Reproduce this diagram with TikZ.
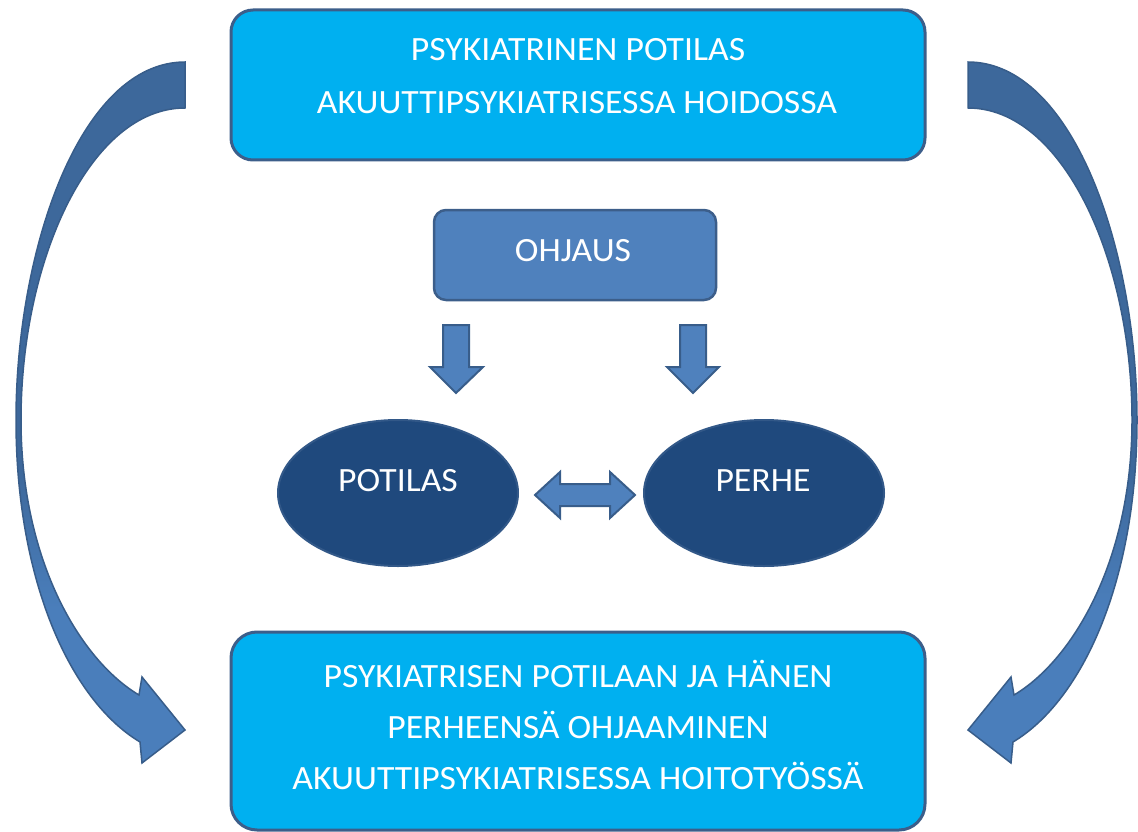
\documentclass[tikz,border=0pt]{standalone}
\usepackage{fontspec}
\newfontfamily\boxfont[FakeStretch=1.05]{Carlito}
\usetikzlibrary{shapes.geometric}
\definecolor{boxcyan}{RGB}{0,176,240}
\definecolor{boxborder}{RGB}{60,94,138}
\definecolor{ohjfill}{RGB}{79,129,189}
\definecolor{ellfill}{RGB}{31,73,125}
\definecolor{ellborder}{RGB}{50,88,136}
\definecolor{arrdark}{RGB}{61,104,155}
\definecolor{arrlight}{RGB}{74,126,187}
\definecolor{arrborder}{RGB}{56,93,138}
\pgfdeclareverticalshading{arrshade}{100bp}{color(0bp)=(arrlight); color(36bp)=(arrlight); color(46bp)=(arrdark); color(100bp)=(arrdark)}
\newcommand\cvarrpath{(185,62) .. controls (80,62) and (16,250) .. (16,420)
  .. controls (16,580) and (70,700) .. (140,742)
  -- (142,763) -- (185,730) -- (142,677) -- (139,695)
  .. controls (80,660) and (21,560) .. (21,420)
  .. controls (21,260) and (90,108) .. (185,108) -- cycle}
\begin{document}
\begin{tikzpicture}[x=1pt,y=-1pt,
  bigbox/.style={draw=boxborder, line width=3pt, fill=boxcyan, rounded corners=22pt, inner sep=0pt},
  ohjbox/.style={draw=boxborder, line width=2.5pt, fill=ohjfill, rounded corners=12pt, inner sep=0pt},
  ell/.style={ellipse, draw=ellborder, line width=2pt, fill=ellfill, inner sep=0pt},
  txt/.style={text=white, font=\boxfont\fontsize{34pt}{40pt}\selectfont, inner sep=0pt, anchor=base},
  blockarr/.style={draw=arrborder, line width=2pt, fill=ohjfill, line join=miter},
  curvarr/.style={draw=arrborder, line width=1.5pt, shading=arrshade, line join=miter}
]
\useasboundingbox (0,0) rectangle (1138,832);

% boxes
\node[bigbox, minimum width=694pt, minimum height=150pt] (top) at (578,85) {};
\node[bigbox, minimum width=694pt, minimum height=198pt, rounded corners=26pt] (bot) at (578,731) {};
\node[ohjbox, minimum width=282pt, minimum height=90pt] (ohj) at (575,255) {};
\node[ell, minimum width=240pt, minimum height=146pt] (pot) at (398,493) {};
\node[ell, minimum width=240pt, minimum height=146pt] (per) at (764,493) {};

% texts
\node[txt] (top1) at (578,61) {PSYKIATRINEN POTILAS};
\node[txt] (top2) at (577,114) {AKUUTTIPSYKIATRISESSA HOIDOSSA};
\node[txt] (ohjt) at (573,261) {OHJAUS};
\node[txt] (pott) at (398,491) {POTILAS};
\node[txt] (pert) at (763,491) {PERHE};
\node[txt] (bot1) at (578,687) {PSYKIATRISEN POTILAAN JA HÄNEN};
\node[txt] (bot2) at (578,738) {PERHEENSÄ OHJAAMINEN};
\node[txt] (bot3) at (578,789) {AKUUTTIPSYKIATRISESSA HOITOTYÖSSÄ};

% small down arrows
\path[blockarr] (443,325) -- (469,325) -- (469,367) -- (483,367) -- (456,393) -- (430,367) -- (443,367) -- cycle;
\path[blockarr] (680,325) -- (706,325) -- (706,367) -- (719,367) -- (693,393) -- (667,367) -- (680,367) -- cycle;

% double arrow
\path[blockarr] (535,495) -- (560,472) -- (560,484) -- (610,484) -- (610,472) -- (635,495)
  -- (610,518) -- (610,506) -- (560,506) -- (560,518) -- cycle;

% curved arrows
\shade[curvarr] \cvarrpath;
\begin{scope}[shift={(1153,0)}, xscale=-1]
\shade[curvarr] \cvarrpath;
\end{scope}
\end{tikzpicture}
\end{document}
